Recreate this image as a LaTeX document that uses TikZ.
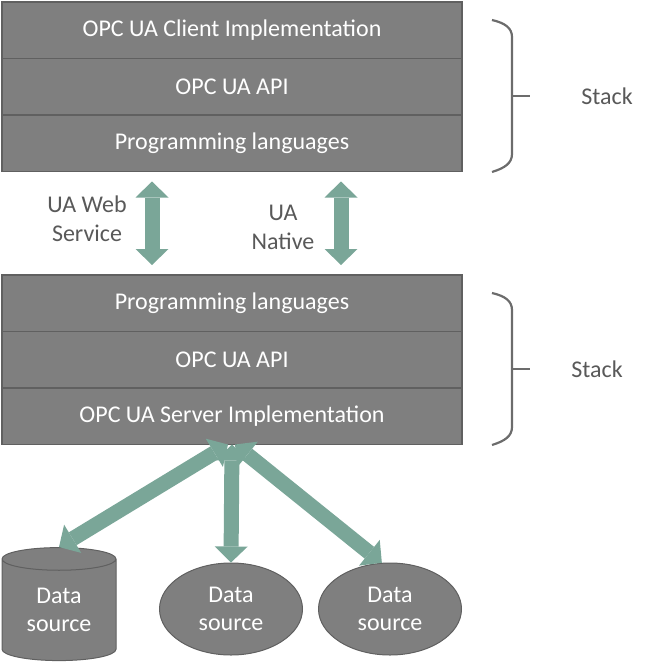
\documentclass[tikz,border=0pt]{standalone}
\usepackage{fontspec}
\setmainfont{Carlito}
\usetikzlibrary{shapes.geometric, arrows.meta, positioning}
\definecolor{layergray}{RGB}{127,127,127}
\definecolor{layerline}{RGB}{96,96,96}
\definecolor{linkgreen}{RGB}{122,166,152}
\definecolor{notegray}{RGB}{89,89,89}
\definecolor{bracegray}{RGB}{108,108,108}

\begin{document}
\begin{tikzpicture}[
  x=1pt, y=-1pt,
  layer/.style={rectangle, draw=layerline, line width=1.2pt, fill=layergray, minimum width=460pt, minimum height=56.5pt, inner sep=0pt, outer sep=0pt, font=\fontsize{24}{29}\selectfont, text=white},
  source/.style={ellipse, draw=layerline, line width=1pt, fill=layergray, minimum width=143pt, minimum height=92pt, inner sep=0pt, align=center, font=\fontsize{24}{28}\selectfont, text=white},
  store/.style={cylinder, shape border rotate=90, aspect=0.35, draw=layerline, line width=1pt, fill=layergray, minimum width=114pt, minimum height=113pt, inner sep=0pt, align=center, font=\fontsize{24}{28}\selectfont, text=white},
  link/.style={line width=15pt, draw=linkgreen, {Triangle[width=33pt, length=16pt, line width=0pt]}-{Triangle[width=33pt, length=16pt, line width=0pt]}},
  note/.style={text=notegray, align=center, font=\fontsize{24}{29}\selectfont},
  brace/.style={draw=bracegray, line width=2.2pt}
]
\useasboundingbox (0,0) rectangle (648,663);

% client stack
\node[layer] (cimpl) at (232,30.25) {OPC UA Client Implementation};
\node[layer, below=0pt of cimpl] (capi) {OPC UA API};
\node[layer, below=0pt of capi] (cprog) {Programming languages};

% server stack
\node[layer] (sprog) at (232,303.25) {Programming languages};
\node[layer, below=0pt of sprog] (sapi) {OPC UA API};
\node[layer, below=0pt of sapi] (simpl) {OPC UA Server Implementation};

% data sources
\node[store] (db) at (59,610) {Data\\source};
\node[source] (dsmid) at (231,609) {Data\\source};
\node[source] (dsright) at (390,609) {Data\\source};

% transport labels
\node[note] (webservice) at (87,219) {UA Web\\Service};
\node[note] (native) at (283,227) {UA\\Native};

% braces
\draw[brace] (492,20) .. controls (505,23) and (512,28) .. (512,37) -- (512,154) .. controls (512,163) and (505,168) .. (492,172);
\draw[brace] (512,96) -- (530,96);
\node[note] (cstack) at (607,96) {Stack};
\draw[brace] (492,293) .. controls (505,296) and (512,301) .. (512,310) -- (512,427) .. controls (512,436) and (505,441) .. (492,445);
\draw[brace] (512,369) -- (530,369);
\node[note] (sstack) at (597,369) {Stack};

\draw[link, shorten <=10pt, shorten >=10pt] ([xshift=-80pt]cprog.south) -- ([xshift=-80pt]sprog.north);
\draw[link, shorten <=10pt, shorten >=10pt] ([xshift=109pt]cprog.south) -- ([xshift=109pt]sprog.north);
\draw[link] ([xshift=-4pt]simpl.south) -- (db.north);
\draw[link] (simpl.south) -- (dsmid.north);
\draw[link] ([xshift=3pt]simpl.south) -- (dsright.100);
\end{tikzpicture}
\end{document}
